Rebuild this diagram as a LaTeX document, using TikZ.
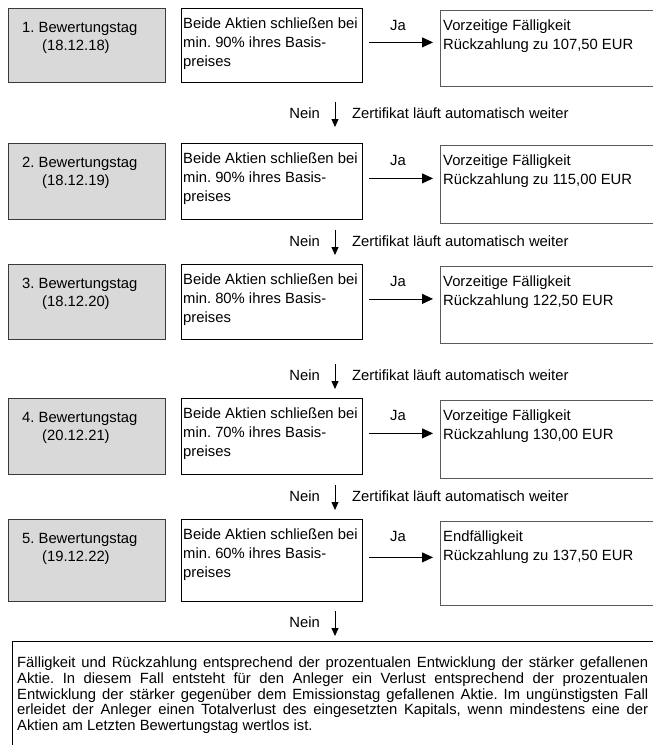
\documentclass[tikz,border=0pt]{standalone}
\usepackage{fontspec}
\setmainfont{Liberation Sans}
\usetikzlibrary{arrows.meta}
\frenchspacing
\definecolor{boxgrey}{HTML}{D9D9D9}
\definecolor{edgedark}{HTML}{3A3A3A}
\definecolor{edgemid}{HTML}{5A5A5A}
\newcommand{\bewrow}[8]{%
  \node[daybox, minimum height=#3pt] (g#1) at (8,#2) {};
  \node[txt] (gt#1) at (22,#2+14) {#4\\\hspace*{20pt}#5};
  \node[condbox, minimum height=#3pt] (c#1) at (181,#2) {};
  \node[txt, font=\fontsize{14.8}{19}\selectfont] (ct#1) at (183,#2+10) {Beide Aktien schließen bei\\min. #6\% ihres Basis-\\preises};
  \node[paybox, minimum height=#3pt+2pt] (p#1) at (440,#2+2) {};
  \node[txt] (pt#1) at (443,#2+12) {#7\\#8};
  \node[lbl] (ja#1) at (398,#2+17) {Ja};
  \draw[jaarr] ([xshift=6pt,yshift=3pt]c#1.east) -- ([xshift=-7pt,yshift=3pt]c#1.east -| p#1.west);
}
\newcommand{\neinarrow}[2]{%
  \coordinate (ds#1) at (335,#2-11);
  \coordinate (de#1) at (335,#2+14);
  \draw[arr] (ds#1) -- (de#1);
  \node[lbl, anchor=east] (nein#1) at (320,#2) {Nein};
}
\begin{document}
\begin{tikzpicture}[x=1pt,y=-1pt,
  every node/.style={font=\fontsize{14.8}{18.3}\selectfont},
  daybox/.style={draw=edgedark, fill=boxgrey, line width=0.9pt, anchor=north west, minimum width=157pt, inner sep=0pt},
  condbox/.style={draw=black, line width=0.8pt, anchor=north west, minimum width=181pt, inner sep=0pt},
  paybox/.style={draw=edgemid, line width=0.9pt, anchor=north west, minimum width=230pt, inner sep=0pt},
  txt/.style={anchor=north west, align=left, inner sep=0pt},
  lbl/.style={inner sep=0pt},
  arr/.style={-{Triangle[length=8pt,width=7pt]}, line width=0.8pt},
  jaarr/.style={-{Triangle[length=11pt,width=10pt]}, line width=0.8pt},
]
\clip (0,0) rectangle (653,745);
\bewrow{1}{8}{74}{1. Bewertungstag}{(18.12.18)}{90}{Vorzeitige Fälligkeit}{Rückzahlung zu 107,50 EUR}
\bewrow{2}{143}{76}{2. Bewertungstag}{(18.12.19)}{90}{Vorzeitige Fälligkeit}{Rückzahlung zu 115,00 EUR}
\bewrow{3}{264}{75}{3. Bewertungstag}{(18.12.20)}{80}{Vorzeitige Fälligkeit}{Rückzahlung 122,50 EUR}
\bewrow{4}{398}{76}{4. Bewertungstag}{(20.12.21)}{70}{Vorzeitige Fälligkeit}{Rückzahlung 130,00 EUR}
\bewrow{5}{519}{82}{5. Bewertungstag}{(19.12.22)}{60}{Endfälligkeit}{Rückzahlung zu 137,50 EUR}
\neinarrow{1}{113}
\neinarrow{2}{241}
\neinarrow{3}{375}
\neinarrow{4}{496}
\neinarrow{5}{622}
\node[lbl, anchor=west] (zw1) at (352,113) {Zertifikat läuft automatisch weiter};
\node[lbl, anchor=west] (zw2) at (352,241) {Zertifikat läuft automatisch weiter};
\node[lbl, anchor=west] (zw3) at (352,375) {Zertifikat läuft automatisch weiter};
\node[lbl, anchor=west] (zw4) at (352,496) {Zertifikat läuft automatisch weiter};
\node[draw=black, line width=0.9pt, anchor=north west, minimum width=700pt, minimum height=150pt, inner sep=0pt] (fin) at (12,641) {};
\node[txt, font=\fontsize{14.8}{15.6}\selectfont] (fintext) at (17,657) {%
\makebox[631pt][s]{Fälligkeit und Rückzahlung entsprechend der prozentualen Entwicklung der stärker gefallenen}\\
\makebox[631pt][s]{Aktie. In diesem Fall entsteht für den Anleger ein Verlust entsprechend der prozentualen}\\
\makebox[631pt][s]{Entwicklung der stärker gegenüber dem Emissionstag gefallenen Aktie. Im ungünstigsten Fall}\\
\makebox[631pt][s]{erleidet der Anleger einen Totalverlust des eingesetzten Kapitals, wenn mindestens eine der}\\
Aktien am Letzten Bewertungstag wertlos ist.};
\end{tikzpicture}
\end{document}
